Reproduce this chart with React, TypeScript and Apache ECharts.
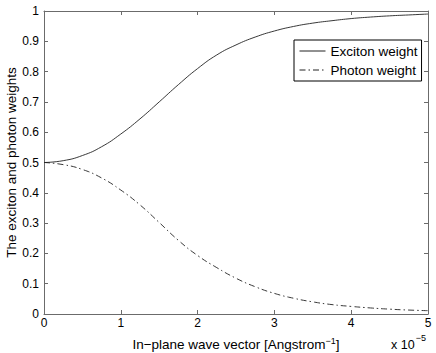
import React, { useEffect, useRef } from "react";
import * as echarts from "echarts";

const waveVector = [0, 0.25, 0.5, 0.75, 1, 1.25, 1.5, 1.75, 2, 2.25, 2.5, 2.75, 3, 3.25, 3.5, 3.75, 4, 4.25, 4.5, 4.75, 5];
const excitonWeight = [0.5, 0.506, 0.523, 0.552, 0.594, 0.644, 0.7, 0.757, 0.81, 0.855, 0.888, 0.914, 0.934, 0.949, 0.96, 0.968, 0.975, 0.98, 0.984, 0.987, 0.99];
const photonWeight = [0.5, 0.493, 0.477, 0.449, 0.409, 0.36, 0.302, 0.243, 0.193, 0.153, 0.118, 0.09, 0.068, 0.052, 0.04, 0.031, 0.025, 0.02, 0.016, 0.013, 0.011];
const seriesNames = ["Exciton weight", "Photon weight"];

const FONT = "Liberation Sans, Arial, Helvetica, sans-serif";
const AXIS_COLOR = "#6b6b6b";
const LINE_COLOR = "#222222";
const BIG = 13.5;

export default function App() {
  const ref = useRef<HTMLDivElement>(null);
  useEffect(() => {
    if (!ref.current) return;
    const chart = echarts.init(ref.current, null, { renderer: "svg" });
    const axisCommon = {
      axisLine: { show: true, onZero: false, lineStyle: { color: AXIS_COLOR, width: 1 } },
      axisTick: { show: true, inside: true, length: 4, lineStyle: { color: AXIS_COLOR } },
      splitLine: { show: false },
    };
    const option: any = {
      animation: false,
      backgroundColor: "#ffffff",
      textStyle: { fontFamily: FONT },
      grid: { left: 44, right: 8, top: 11, bottom: 39, containLabel: false, outerBoundsMode: "none" },
      legend: {
        data: seriesNames,
        orient: "vertical",
        left: 294,
        top: 40,
        padding: [4, 4, 4, 5],
        itemWidth: 26,
        itemHeight: 14,
        itemGap: 5,
        backgroundColor: "#ffffff",
        borderColor: "#000000",
        borderWidth: 1,
        borderRadius: 0,
        itemStyle: { opacity: 0 },
        lineStyle: { width: 1, color: LINE_COLOR },
        textStyle: { fontSize: BIG, color: "#000", fontFamily: FONT },
      },
      xAxis: [
        {
          type: "value",
          min: 0,
          max: 5,
          interval: 1,
          position: "bottom",
          ...axisCommon,
          axisLabel: { color: "#000", fontSize: 12, fontFamily: FONT, margin: 3 },
          name: "{a|In−plane wave vector [Angstrom}{s|−1}{a|]}",
          nameLocation: "middle",
          nameGap: 22,
          nameMoveOverlap: false,
          nameTextStyle: {
            rich: {
              a: { fontSize: BIG, color: "#000", fontFamily: FONT },
              s: { fontSize: 9, color: "#000", fontFamily: FONT, verticalAlign: "top", padding: [0, 0, 7, 0] },
            },
          },
        },
        {
          type: "value",
          min: 0,
          max: 5,
          interval: 1,
          position: "top",
          ...axisCommon,
          axisLabel: { show: false },
        },
      ],
      yAxis: [
        {
          type: "value",
          min: 0,
          max: 1,
          interval: 0.1,
          position: "left",
          ...axisCommon,
          axisLabel: {
            color: "#000",
            fontSize: 12,
            fontFamily: FONT,
            margin: 5,
            formatter: (v: number) => String(parseFloat(v.toFixed(1))),
          },
          name: "The exciton and photon weights",
          nameLocation: "middle",
          nameGap: 26,
          nameMoveOverlap: false,
          nameTextStyle: { fontSize: BIG, color: "#000", fontFamily: FONT },
        },
        {
          type: "value",
          min: 0,
          max: 1,
          interval: 0.1,
          position: "right",
          ...axisCommon,
          axisLabel: { show: false },
        },
      ],
      graphic: [
        {
          type: "text",
          left: 391,
          top: 333,
          style: {
            text: "{a|x 10}{s|−5}",
            rich: {
              a: { fontSize: 12.5, fill: "#000", fontFamily: FONT, padding: [5, 0, 0, 0] },
              s: { fontSize: 9, fill: "#000", fontFamily: FONT, verticalAlign: "top", padding: [0, 0, 0, 1] },
            },
          },
        },
      ],
      series: [
        {
          name: seriesNames[0],
          type: "line",
          data: waveVector.map((x, i) => [x, excitonWeight[i]]),
          symbol: "none",
          smooth: true,
          itemStyle: { color: LINE_COLOR },
          lineStyle: { color: LINE_COLOR, width: 0.9, type: "solid" },
        },
        {
          name: seriesNames[1],
          type: "line",
          data: waveVector.map((x, i) => [x, photonWeight[i]]),
          symbol: "none",
          smooth: true,
          itemStyle: { color: LINE_COLOR },
          lineStyle: { color: LINE_COLOR, width: 0.9, type: [6, 3, 1.5, 3] },
        },
      ],
    };
    chart.setOption(option);
    return () => chart.dispose();
  }, []);
  return (
    <div
      ref={ref}
      style={{ position: "fixed", left: 0, top: 0, width: 436, height: 353, background: "#fff" }}
    />
  );
}
